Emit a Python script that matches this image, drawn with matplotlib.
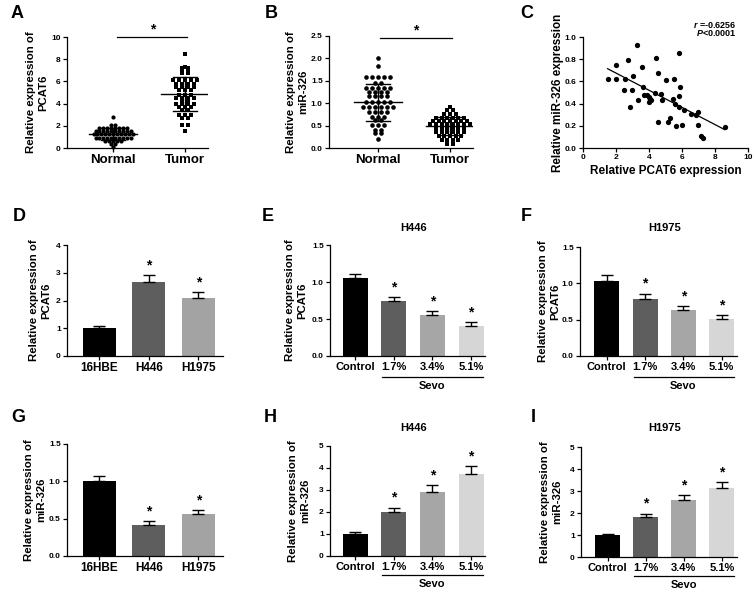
import numpy as np
import matplotlib
matplotlib.use('Agg')
import matplotlib.pyplot as plt
from matplotlib.transforms import blended_transform_factory

plt.rcParams['font.family'] = ['Liberation Sans', 'DejaVu Sans']
plt.rcParams['font.weight'] = 'bold'
plt.rcParams['axes.labelweight'] = 'bold'
plt.rcParams['mathtext.fontset'] = 'custom'
plt.rcParams['mathtext.it'] = 'Liberation Sans:italic:bold'
plt.rcParams['mathtext.rm'] = 'Liberation Sans:bold'
plt.rcParams['axes.linewidth'] = 0.9

# ---------------- data ----------------
normal_pcat6 = [2.8,
                2.1, 2.1,
                1.83, 1.83, 1.83, 1.83, 1.83, 1.83, 1.83, 1.83,
                1.53, 1.53, 1.53, 1.53, 1.53, 1.53, 1.53, 1.53, 1.53, 1.53,
                1.23, 1.23, 1.23, 1.23, 1.23, 1.23, 1.23, 1.23, 1.23, 1.23, 1.23,
                0.93, 0.93, 0.93, 0.93, 0.93, 0.93, 0.93, 0.93, 0.93, 0.93,
                0.63, 0.63, 0.63, 0.63, 0.63,
                0.33, 0.33,
                0.12]
tumor_pcat6 = [8.5, 7.3, 7.2, 7.2, 7.0, 7.0, 6.8, 6.8,
               6.1, 6.1, 6.1, 6.1, 6.1,
               5.8, 5.8, 5.8, 5.8,
               5.5, 5.5, 5.5, 5.5,
               5.2, 5.2, 5.2,
               4.8, 4.8, 4.8,
               4.5, 4.5, 4.5, 4.5,
               4.2, 4.2,
               4.0, 4.0, 4.0, 4.0,
               3.7, 3.7, 3.7,
               3.4, 3.4,
               3.0, 3.0, 3.0,
               2.7, 2.7,
               2.1, 2.1,
               1.5]
normal_mir = [2.0, 1.82,
              1.58, 1.58, 1.58, 1.58, 1.58,
              1.44, 1.44,
              1.33, 1.33, 1.33, 1.33, 1.33,
              1.26, 1.26, 1.26, 1.26,
              1.15, 1.15, 1.15, 1.15,
              1.03, 1.03, 1.03, 1.03, 1.03,
              0.92, 0.92, 0.92, 0.92, 0.92, 0.92,
              0.81, 0.81, 0.81, 0.81,
              0.70, 0.70, 0.70,
              0.62, 0.62,
              0.51, 0.51, 0.51,
              0.40, 0.40,
              0.33, 0.33,
              0.19]
tumor_mir = [0.92,
             0.85, 0.85,
             0.75, 0.75, 0.75,
             0.68, 0.68, 0.68, 0.68, 0.68, 0.68,
             0.60, 0.60, 0.60, 0.60, 0.60, 0.60, 0.60,
             0.53, 0.53, 0.53, 0.53, 0.53, 0.53, 0.53, 0.53,
             0.44, 0.44, 0.44, 0.44, 0.44, 0.44,
             0.36, 0.36, 0.36, 0.36, 0.36, 0.36,
             0.27, 0.27, 0.27, 0.27, 0.27,
             0.18, 0.18, 0.18, 0.18,
             0.09, 0.09]
corr_pcat6 = [1.49, 2.0, 2.0, 2.55, 2.5, 2.75, 2.86, 2.96, 3.0, 3.3, 3.34, 3.6, 3.66, 3.72,
              3.86, 3.98, 4.04, 4.02, 4.1, 4.35, 4.45, 4.53, 4.57, 4.75, 4.8, 5.0, 5.17,
              5.3, 5.49, 5.47, 5.6, 5.65, 5.8, 5.84, 5.86, 5.84, 6.0, 6.14, 6.54, 6.84,
              6.98, 6.96, 7.18, 7.28, 8.59]
corr_mir = [0.62, 0.75, 0.62, 0.62, 0.52, 0.79, 0.37, 0.52, 0.65, 0.93, 0.43, 0.73, 0.55,
            0.48, 0.48, 0.46, 0.44, 0.41, 0.43, 0.50, 0.81, 0.68, 0.23, 0.49, 0.43, 0.61,
            0.23, 0.27, 0.62, 0.44, 0.40, 0.20, 0.47, 0.37, 0.55, 0.86, 0.21, 0.34, 0.31,
            0.30, 0.32, 0.21, 0.11, 0.09, 0.19]

cell_lines = ['16HBE', 'H446', 'H1975']
pcat6_cells = [1.0, 2.68, 2.1]
pcat6_cells_err = [0.09, 0.24, 0.19]
mir_cells = [1.0, 0.42, 0.56]
mir_cells_err = [0.07, 0.05, 0.05]

sevo_groups = ['Control', '1.7%', '3.4%', '5.1%']
pcat6_h446 = [1.05, 0.74, 0.55, 0.41]
pcat6_h446_err = [0.06, 0.06, 0.06, 0.05]
pcat6_h1975 = [1.03, 0.79, 0.63, 0.51]
pcat6_h1975_err = [0.09, 0.07, 0.06, 0.05]
mir_h446 = [1.0, 2.02, 2.93, 3.72]
mir_h446_err = [0.08, 0.18, 0.28, 0.35]
mir_h1975 = [0.98, 1.82, 2.57, 3.15]
mir_h1975_err = [0.05, 0.15, 0.25, 0.27]

cell_colors = ['#000000', '#5e5e5e', '#a3a3a3']
sevo_colors = ['#000000', '#5e5e5e', '#a6a6a6', '#d6d6d6']

# ---------------- figure ----------------
W, H = 756, 593
fig = plt.figure(figsize=(W / 100, H / 100), dpi=100)


def add_ax(l, t, r, b):
    ax = fig.add_axes([l / W, 1 - b / H, (r - l) / W, (b - t) / H])
    for s in ['top', 'right']:
        ax.spines[s].set_visible(False)
    ax.tick_params(direction='out', length=3, width=0.9, pad=1.5)
    return ax


def ylab(ax, text, xc, fs=8.2):
    bb = ax.get_position()
    yc = (bb.y0 + bb.y1) / 2
    fig.text(xc / W, yc, text, rotation=90, ha='center', va='center',
             multialignment='center', fontsize=fs, fontweight='bold')


def panel_label(letter, x, y):
    fig.text(x / W, 1 - y / H, letter, ha='center', va='center', fontsize=13,
             fontweight='bold')


def row_offsets(values, px_x, d):
    """GraphPad-like layout: points sharing a value are spread in a centred row."""
    vals = np.asarray(values, float)
    offs = np.zeros(len(vals))
    for v in np.unique(vals):
        idx = np.where(vals == v)[0]
        n = len(idx)
        offs[idx] = (np.arange(n) - (n - 1) / 2) * d / px_x
    return offs


def dot_panel(ax, groups, markers, sizes, spacings, px_x):
    for pos, (vals, m, ms, d) in enumerate(zip(groups, markers, sizes, spacings)):
        offs = row_offsets(vals, px_x, d)
        ax.plot(pos + offs, vals, m, color='black', ms=ms, mew=0, ls='none',
                clip_on=False, zorder=3)
        mu = np.mean(vals)
        sd = np.std(vals, ddof=1)
        ax.plot([pos - 0.33, pos + 0.33], [mu, mu], color='black', lw=1, zorder=4)
        ax.plot([pos - 0.17, pos + 0.17], [mu + sd, mu + sd], color='black', lw=1, zorder=4)
        ax.plot([pos - 0.17, pos + 0.17], [mu - sd, mu - sd], color='black', lw=1, zorder=4)
        ax.plot([pos, pos], [mu - sd, mu + sd], color='black', lw=1, zorder=4)


def bar_panel(ax, labels, vals, errs, colors, width):
    x = np.arange(len(vals))
    ax.bar(x, vals, width=width, color=colors, zorder=2)
    ax.errorbar(x, vals, yerr=[np.zeros(len(errs)), errs], fmt='none', ecolor='black',
                elinewidth=1, capsize=4.5, capthick=1, zorder=3)
    ax.set_xticks(x)
    ax.set_xticklabels(labels)
    return x


def stars(ax, x, tops, dy_pt=2):
    for xi, t in zip(x, tops):
        ax.annotate('*', (xi, t), xytext=(0, dy_pt), textcoords='offset points',
                    ha='center', va='bottom', fontsize=10, fontweight='bold')


def sevo(ax, y_line_px, y_text_px):
    ax_h = ax.get_position().height * H
    tr = blended_transform_factory(ax.transData, ax.transAxes)
    ax.plot([0.70, 3.32], [-y_line_px / ax_h] * 2, color='black', lw=0.9,
            transform=tr, clip_on=False)
    ax.text(2.0, -y_text_px / ax_h, 'Sevo', transform=tr, ha='center', va='center',
            fontsize=8, fontweight='bold')


def title(ax, text, xc, y_px):
    ax_h = ax.get_position().height * H
    tr = blended_transform_factory(ax.transData, ax.transAxes)
    ax.text(xc, 1 + y_px / ax_h, text, transform=tr, ha='center', va='center',
            fontsize=8, fontweight='bold')


# ---------- A ----------
axA = add_ax(67, 37, 208, 148)
axA.set_xlim(-0.64, 1.32)
axA.set_ylim(0, 10)
axA.set_yticks([0, 2, 4, 6, 8, 10])
axA.set_xticks([0, 1])
axA.set_xticklabels(['Normal', 'Tumor'])
axA.tick_params(axis='y', labelsize=6)
axA.tick_params(axis='x', labelsize=9.5)
dot_panel(axA, [normal_pcat6, tumor_pcat6], ['o', 's'], [3.0, 3.0], [3.9, 6.2], 72)
axA.plot([0.06, 1.03], [10, 10], color='black', lw=0.9, clip_on=False)
axA.text(0.545, 10.05, '*', ha='center', va='bottom', fontsize=10, fontweight='bold')
ylab(axA, 'Relative expression of\nPCAT6', 37)
panel_label('A', 17, 13)

# ---------- B ----------
axB = add_ax(329, 36, 473, 148)
axB.set_xlim(-0.68, 1.32)
axB.set_ylim(0, 2.5)
axB.set_yticks([0, 0.5, 1.0, 1.5, 2.0, 2.5])
axB.set_yticklabels(['0.0', '0.5', '1.0', '1.5', '2.0', '2.5'])
axB.set_xticks([0, 1])
axB.set_xticklabels(['Normal', 'Tumor'])
axB.tick_params(axis='y', labelsize=6)
axB.tick_params(axis='x', labelsize=9.5)
dot_panel(axB, [normal_mir, tumor_mir], ['o', 's'], [3.3, 3.0], [6.0, 5.6], 72)
axB.plot([0.03, 1.03], [2.45, 2.45], color='black', lw=0.9, clip_on=False)
axB.text(0.53, 2.46, '*', ha='center', va='bottom', fontsize=10, fontweight='bold')
ylab(axB, 'Relative expression of\nmiR-326', 297)
panel_label('B', 271, 13)

# ---------- C ----------
axC = add_ax(583, 37, 748, 148)
axC.set_xlim(0, 10)
axC.set_ylim(0, 1.0)
axC.set_xticks([0, 2, 4, 6, 8, 10])
axC.set_yticks([0, 0.2, 0.4, 0.6, 0.8, 1.0])
axC.set_yticklabels(['0.0', '0.2', '0.4', '0.6', '0.8', '1.0'])
axC.tick_params(labelsize=6)
axC.plot(corr_pcat6, corr_mir, 'o', color='black', ms=3.8, mew=0, ls='none',
         clip_on=False)
k, b0 = np.polyfit(corr_pcat6, corr_mir, 1)
xl = np.array([min(corr_pcat6), max(corr_pcat6)])
axC.plot(xl, k * xl + b0, color='black', lw=0.9)
axC.set_xlabel('Relative PCAT6 expression', fontsize=8.5, labelpad=3)
ylab(axC, 'Relative miR-326 expression', 558, fs=8.4)
fig.text(737 / W, 1 - 25 / H, r'$\it{r}$ =-0.6256', ha='right', va='center', fontsize=6.5,
         fontweight='bold')
fig.text(737 / W, 1 - 33.5 / H, r'$\it{P}$<0.0001', ha='right', va='center', fontsize=6.5,
         fontweight='bold')
panel_label('C', 527, 13)

# ---------- D ----------
axD = add_ax(67, 245, 223, 356)
axD.set_xlim(-0.65, 2.5)
axD.set_ylim(0, 4)
axD.set_yticks([0, 1, 2, 3, 4])
xD = bar_panel(axD, cell_lines, pcat6_cells, pcat6_cells_err, cell_colors, 0.67)
axD.tick_params(axis='y', labelsize=6)
axD.tick_params(axis='x', labelsize=8.5)
stars(axD, xD[1:], np.add(pcat6_cells, pcat6_cells_err)[1:])
ylab(axD, 'Relative expression of\nPCAT6', 40)
panel_label('D', 19, 216)

# ---------- E ----------
axE = add_ax(330, 245, 485, 356)
axE.set_xlim(-0.65, 3.36)
axE.set_ylim(0, 1.5)
axE.set_yticks([0, 0.5, 1.0, 1.5])
axE.set_yticklabels(['0.0', '0.5', '1.0', '1.5'])
xE = bar_panel(axE, sevo_groups, pcat6_h446, pcat6_h446_err, sevo_colors, 0.65)
axE.tick_params(axis='y', labelsize=6)
axE.tick_params(axis='x', labelsize=8)
stars(axE, xE[1:], np.add(pcat6_h446, pcat6_h446_err)[1:])
sevo(axE, 21, 30)
title(axE, 'H446', 1.5, 17)
ylab(axE, 'Relative expression of\nPCAT6', 296)
panel_label('E', 268, 216)

# ---------- F ----------
axF = add_ax(580, 247, 737, 356)
axF.set_xlim(-0.7, 3.4)
axF.set_ylim(0, 1.5)
axF.set_yticks([0, 0.5, 1.0, 1.5])
axF.set_yticklabels(['0.0', '0.5', '1.0', '1.5'])
xF = bar_panel(axF, sevo_groups, pcat6_h1975, pcat6_h1975_err, sevo_colors, 0.65)
axF.tick_params(axis='y', labelsize=6)
axF.tick_params(axis='x', labelsize=8)
stars(axF, xF[1:], np.add(pcat6_h1975, pcat6_h1975_err)[1:])
sevo(axF, 21, 30)
title(axF, 'H1975', 1.5, 19)
ylab(axF, 'Relative expression of\nPCAT6', 549)
panel_label('F', 526, 216)

# ---------- G ----------
axG = add_ax(67, 444, 223, 556)
axG.set_xlim(-0.65, 2.5)
axG.set_ylim(0, 1.5)
axG.set_yticks([0, 0.5, 1.0, 1.5])
axG.set_yticklabels(['0.0', '0.5', '1.0', '1.5'])
xG = bar_panel(axG, cell_lines, mir_cells, mir_cells_err, cell_colors, 0.67)
axG.tick_params(axis='y', labelsize=6)
axG.tick_params(axis='x', labelsize=8.5)
stars(axG, xG[1:], np.add(mir_cells, mir_cells_err)[1:])
ylab(axG, 'Relative expression of\nmiR-326', 35)
panel_label('G', 18, 417)

# ---------- H ----------
axH = add_ax(330, 446, 485, 556)
axH.set_xlim(-0.65, 3.36)
axH.set_ylim(0, 5)
axH.set_yticks([0, 1, 2, 3, 4, 5])
xH = bar_panel(axH, sevo_groups, mir_h446, mir_h446_err, sevo_colors, 0.65)
axH.tick_params(axis='y', labelsize=6)
axH.tick_params(axis='x', labelsize=8)
stars(axH, xH[1:], np.add(mir_h446, mir_h446_err)[1:])
sevo(axH, 19, 28)
title(axH, 'H446', 1.5, 18)
ylab(axH, 'Relative expression of\nmiR-326', 299)
panel_label('H', 270, 417)

# ---------- I ----------
axI = add_ax(581, 447, 737, 557)
axI.set_xlim(-0.7, 3.4)
axI.set_ylim(0, 5)
axI.set_yticks([0, 1, 2, 3, 4, 5])
xI = bar_panel(axI, sevo_groups, mir_h1975, mir_h1975_err, sevo_colors, 0.65)
axI.tick_params(axis='y', labelsize=6)
axI.tick_params(axis='x', labelsize=8)
stars(axI, xI[1:], np.add(mir_h1975, mir_h1975_err)[1:])
sevo(axI, 19, 28)
title(axI, 'H1975', 1.5, 19)
ylab(axI, 'Relative expression of\nmiR-326', 551)
panel_label('I', 533, 418)

fig.savefig('out.png', dpi=100)
